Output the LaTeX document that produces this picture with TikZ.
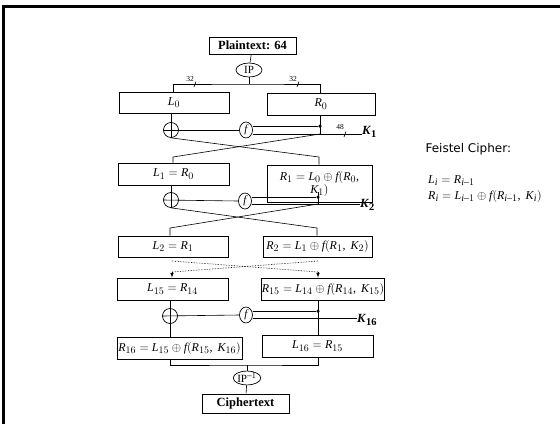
\documentclass[tikz,border=0pt]{standalone}
\usepackage{fontspec}
\setmainfont{Liberation Serif}
\newfontfamily\titlefont{DejaVu Sans}
\usepackage[italic]{mathastext}
\usepackage{tikz}
\usetikzlibrary{shapes,arrows,positioning,calc}

\newcommand{\keyof}[1]{\textbf{\textit{K}}\textsubscript{\textbf{\upshape #1}}}

\begin{document}
\begin{tikzpicture}[x=1pt, y=-1pt, >=latex,
    box/.style={rectangle, draw, line width=0.9pt, inner sep=0.5pt, font=\fontsize{12}{13}\selectfont},
    perm/.style={ellipse, draw, line width=0.7pt, inner sep=0pt, minimum width=26pt, minimum height=14pt, font=\fontsize{11}{12}\selectfont},
    xorop/.style={circle, draw, line width=0.7pt, minimum size=15pt, inner sep=0pt},
    fun/.style={ellipse, draw, line width=0.7pt, minimum width=13pt, minimum height=16pt, inner sep=0pt, font=\fontsize{11}{12}\selectfont\itshape},
    tap/.style={circle, fill, minimum size=3.5pt, inner sep=0pt},
    keyname/.style={anchor=west, inner sep=0pt, font=\fontsize{12.5}{13}\selectfont},
    bits/.style={inner sep=0pt, font=\fontsize{7.5}{8}\selectfont},
    wire/.style={line width=0.6pt}]
    \useasboundingbox (0,0) rectangle (560,424);
    \draw[line width=3pt] (3.5,424) -- (3.5,6.5) -- (560,6.5);

    % Input and initial permutation
    \node[box, minimum width=87pt, minimum height=17pt, font=\fontsize{12.5}{13}\selectfont\bfseries] (plain) at (252.5,45.5) {Plaintext: 64};
    \node[perm] (ip) at (249,70) {IP};
    \node[box, minimum width=110pt, minimum height=21pt] (L0) at (174,102.5) {$L_0$};
    \node[box, minimum width=108pt, minimum height=22pt] (R0) at (321,104) {$R_0$};
    \coordinate (S) at (249,84);
    \draw[wire] (plain) -- (ip);
    \draw[wire] (ip) -- (S);
    \draw[wire] (L0.north -| 173,0) |- (S) -| (R0.north -| 320,0);
    \draw[wire] (194,87) -- (196,81.5);
    \draw[wire] (297,87) -- (299,81.5);
    \node[bits] at (190,79) {32};
    \node[bits] at (293,79) {32};

    % Round 1
    \node[xorop] (X1) at (171,130) {};
    \node[fun] (F1) at (246,130) {f};
    \node[tap] (D1) at (320,126) {};
    \node[keyname] (K1) at (362,132) {\keyof{1}};
    \coordinate (C1) at (320,134);
    \draw[wire] (X1 |- L0.south) -- (X1.south);
    \draw[wire] (X1.west) -- (F1.west);
    \draw[wire] (D1 |- R0.south) -- (C1);
    \draw[wire] (D1) -- (D1 -| F1.east);
    \draw[wire] (C1 -| F1.east) -- (C1 -| K1.west);
    \draw[wire] (344,137) -- (346,131.5);
    \node[bits] at (340,127) {48};

    \node[box, minimum width=111pt, minimum height=22pt] (L1) at (173.5,174) {$L_1 = R_0$};
    \node[box, minimum width=105pt, minimum height=37pt, align=center] (R1) at (319.5,183.5) {$R_1 = L_0 \oplus f(R_0,$\\$K_1)$};
    \coordinate (A1) at (173,157);
    \coordinate (B1) at (319,157);
    \draw[wire] (C1) -- (A1) -- (A1 |- L1.north);
    \draw[wire] (X1.south) -- (B1) -- (B1 |- R1.north);

    % Round 2
    \node[xorop] (X2) at (171,200) {};
    \node[fun] (F2) at (245,201) {f};
    \node[tap] (D2) at (318,197) {};
    \node[keyname] (K2) at (360,205) {\keyof{2}};
    \coordinate (C2) at (318,204);
    \draw[wire] (X2 |- L1.south) -- (X2.south);
    \draw[wire] (X2.west) -- (F2.west);
    \draw[wire] (318,192) -- (C2);
    \draw[wire] (D2) -- (D2 -| F2.east);
    \draw[wire] (C2 -| F2.east) -- (C2 -| K2.west);

    \node[box, minimum width=110pt, minimum height=21pt] (L2) at (173,246.5) {$L_2 = R_1$};
    \node[box, minimum width=109pt, minimum height=21pt] (R2) at (317.5,246.5) {$R_2 = L_1 \oplus f(R_1,\ K_2)$};
    \coordinate (A2) at (170,228);
    \coordinate (B2) at (317,228);
    \draw[wire] (C2) -- (A2) -- (A2 |- L2.north);
    \draw[wire] (X2.south) -- (B2) -- (B2 |- R2.north);

    % Rounds 3 to 15 (skipped)
    \coordinate (E1) at (172,261);
    \coordinate (E2) at (318,261);
    \coordinate (G1) at (172,272);
    \coordinate (G2) at (318,272);
    \draw[wire, densely dotted] (E1) -- (G2);
    \draw[wire, densely dotted] (E2) -- (G1);

    \node[box, minimum width=111pt, minimum height=22pt] (L15) at (172.5,289) {$L_{15} = R_{14}$};
    \node[box, minimum width=114pt, minimum height=22pt, inner sep=0pt] (R15) at (323,289) {$R_{15} = L_{14} \oplus f(R_{14},\ K_{15})$};
    \draw[wire, ->] (G1) -- (G1 |- L15.north);
    \draw[wire, ->] (G2) -- (G2 |- R15.north);

    % Round 16
    \node[xorop] (X3) at (170,316) {};
    \node[fun] (F3) at (246,315) {f};
    \node[tap] (D3) at (318,311) {};
    \node[keyname] (K16) at (357,320) {\keyof{16}};
    \coordinate (C3) at (318,318);
    \node[box, minimum width=125pt, minimum height=22pt, inner sep=0pt] (R16) at (179.5,348) {$R_{16} = L_{15} \oplus f(R_{15},\ K_{16})$};
    \node[box, minimum width=111pt, minimum height=22pt] (L16) at (317.5,346) {$L_{16} = R_{15}$};
    \draw[wire] (X3 |- L15.south) -- (X3 |- R16.north);
    \draw[wire] (X3.west) -- (F3.west);
    \draw[wire] (D3 |- R15.south) -- (D3 |- L16.north);
    \draw[wire] (D3) -- (D3 -| F3.east);
    \draw[wire] (C3 -| F3.east) -- (C3 -| K16.west);

    % Output and final permutation
    \coordinate (J) at (247,365);
    \node[perm, minimum width=27pt, minimum height=13pt] (ip2) at (247,378) {IP$^{-1}$};
    \node[box, minimum width=87pt, minimum height=19pt, font=\fontsize{12.5}{13}\selectfont\bfseries] (cipher) at (245.5,403.5) {Ciphertext};
    \draw[wire] (X3 |- R16.south) |- (J) -| (D3 |- L16.south);
    \draw[wire] (J) -- (ip2);
    \draw[wire] (ip2) -- (cipher);

    % Round equations
    \node[anchor=west, font=\titlefont\fontsize{12}{13}\selectfont] (title) at (422,149) {Feistel Cipher:};
    \node[anchor=north west, align=left, inner sep=0pt, font=\fontsize{12}{16}\selectfont] (eqs) at (428,175) {$L_i = R_{i-1}$\\$R_i = L_{i-1} \oplus f(R_{i-1},\ K_i)$};
\end{tikzpicture}
\end{document}
